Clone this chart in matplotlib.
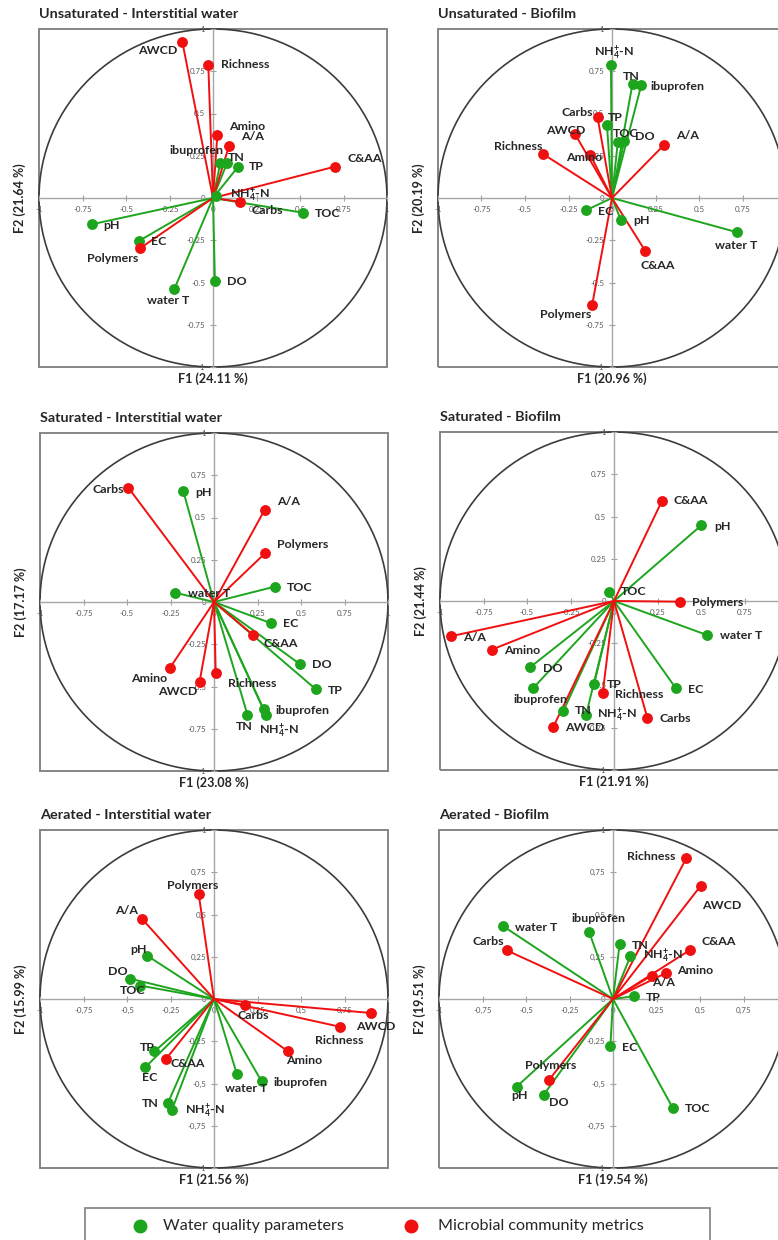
import matplotlib
matplotlib.use('Agg')
import matplotlib.pyplot as plt
from matplotlib.patches import Circle, Rectangle
from matplotlib.lines import Line2D

plt.rcParams['font.family'] = ['Lato', 'DejaVu Sans']
plt.rcParams['mathtext.fontset'] = 'custom'
plt.rcParams['mathtext.rm'] = 'Lato'
plt.rcParams['mathtext.bf'] = 'Lato:bold'
plt.rcParams['mathtext.it'] = 'Lato:italic'

# variable order shared by every panel
water_names = ['pH', 'EC', 'water T', 'DO', 'TOC', 'TN', 'NH4', 'TP', 'ibuprofen']
microbe_names = ['AWCD', 'Richness', 'Carbs', 'Polymers', 'C&AA', 'Amino', 'A/A']

# Unsaturated - Interstitial water
uns_iw_wq_f1 = [-0.698, -0.424, -0.222, 0.011, 0.516, 0.082, 0.02, 0.145, 0.042]
uns_iw_wq_f2 = [-0.156, -0.253, -0.538, -0.492, -0.087, 0.21, 0.01, 0.186, 0.206]
uns_iw_mc_f1 = [-0.176, -0.027, 0.153, -0.42, 0.702, 0.025, 0.092]
uns_iw_mc_f2 = [0.923, 0.787, -0.022, -0.298, 0.186, 0.373, 0.308]

# Unsaturated - Biofilm
uns_bf_wq_f1 = [0.052, -0.151, 0.72, 0.071, 0.033, 0.118, -0.006, -0.029, 0.168]
uns_bf_wq_f2 = [-0.132, -0.073, -0.203, 0.339, 0.329, 0.677, 0.785, 0.432, 0.667]
uns_bf_mc_f1 = [-0.214, -0.396, -0.083, -0.114, 0.191, -0.125, 0.299]
uns_bf_mc_f2 = [0.381, 0.26, 0.477, -0.632, -0.313, 0.256, 0.314]

# Saturated - Interstitial water
sat_iw_wq_f1 = [-0.177, 0.327, -0.223, 0.492, 0.35, 0.192, 0.298, 0.585, 0.285]
sat_iw_wq_f2 = [0.658, -0.125, 0.055, -0.366, 0.091, -0.666, -0.666, -0.516, -0.634]
sat_iw_mc_f1 = [-0.083, 0.01, -0.492, 0.292, 0.223, -0.254, 0.292]
sat_iw_mc_f2 = [-0.472, -0.423, 0.676, 0.287, -0.194, -0.391, 0.547]

# Saturated - Biofilm
sat_bf_wq_f1 = [0.502, 0.356, 0.536, -0.483, -0.027, -0.291, -0.161, -0.115, -0.464]
sat_bf_wq_f2 = [0.448, -0.517, -0.202, -0.393, 0.055, -0.65, -0.676, -0.493, -0.515]
sat_bf_mc_f1 = [-0.349, -0.065, 0.192, 0.379, 0.276, -0.701, -0.935]
sat_bf_mc_f2 = [-0.745, -0.546, -0.692, -0.004, 0.593, -0.287, -0.208]

# Aerated - Interstitial water
aer_iw_wq_f1 = [-0.385, -0.396, 0.131, -0.485, -0.423, -0.265, -0.242, -0.342, 0.273]
aer_iw_wq_f2 = [0.257, -0.405, -0.443, 0.121, 0.079, -0.615, -0.656, -0.31, -0.486]
aer_iw_mc_f1 = [0.904, 0.723, 0.177, -0.088, -0.277, 0.423, -0.415]
aer_iw_mc_f2 = [-0.083, -0.164, -0.036, 0.621, -0.356, -0.308, 0.476]

# Aerated - Biofilm
aer_bf_wq_f1 = [-0.554, -0.015, -0.63, -0.398, 0.343, 0.038, 0.1, 0.119, -0.138]
aer_bf_wq_f2 = [-0.519, -0.281, 0.43, -0.566, -0.644, 0.324, 0.253, 0.016, 0.399]
aer_bf_mc_f1 = [0.504, 0.421, -0.609, -0.368, 0.441, 0.303, 0.222]
aer_bf_mc_f2 = [0.67, 0.833, 0.287, -0.479, 0.289, 0.153, 0.138]

ticks = [-1, -0.75, -0.5, -0.25, 0, 0.25, 0.5, 0.75, 1]
tick_text = ['-1', '-0.75', '-0.5', '-0.25', '0', '0.25', '0.5', '0.75', '1']

GREEN = '#1ea51e'
RED = '#f01010'
TXT = '#262626'
W, H = 778, 1240

display = {n: n for n in water_names + microbe_names}
display['NH4'] = r'NH$_\mathbf{4}^\mathbf{+}$-N'

# label placement (dx, dy in pixels, alignment) per panel
lab_uns_iw = {'AWCD': (-5, -8, 'r'), 'Richness': (13, 0, 'l'), 'Amino': (12, 8, 'l'),
              'A/A': (12, 9, 'l'), 'ibuprofen': (3, 13, 'r'), 'TN': (1, 5, 'l'),
              'TP': (11, 0, 'l'), 'C&AA': (12, 8, 'l'), 'NH4': (14, 1, 'l'),
              'Carbs': (12, -9, 'l'), 'TOC': (12, -1, 'l'), 'pH': (12, -1, 'l'),
              'EC': (12, -1, 'l'), 'Polymers': (-2, -10, 'r'), 'water T': (-6, -12, 'c'),
              'DO': (12, 0, 'l')}
lab_uns_bf = {'NH4': (3, 12, 'c'), 'TN': (-1, 7, 'c'), 'ibuprofen': (9, -1, 'l'),
              'Carbs': (-4, 5, 'r'), 'TP': (1, 7, 'l'), 'AWCD': (-9, 3, 'c'),
              'TOC': (-5, 9, 'l'), 'DO': (11, 4, 'l'), 'A/A': (12, 9, 'l'),
              'Richness': (-1, 8, 'r'), 'Amino': (-6, -3, 'c'), 'EC': (12, -1, 'l'),
              'pH': (12, 0, 'l'), 'water T': (-1, -13, 'c'), 'C&AA': (13, -15, 'c'),
              'Polymers': (-1, -10, 'r')}
lab_sat_iw = {'Carbs': (-4, -2, 'r'), 'pH': (12, -2, 'l'), 'A/A': (12, 8, 'l'),
              'Polymers': (12, 9, 'l'), 'TOC': (12, -1, 'l'), 'water T': (13, -1, 'l'),
              'EC': (12, 0, 'l'), 'C&AA': (11, -9, 'l'), 'DO': (12, -1, 'l'),
              'TP': (12, -1, 'l'), 'Amino': (-3, -10, 'r'), 'AWCD': (-2, -10, 'r'),
              'Richness': (12, -10, 'l'), 'ibuprofen': (12, -1, 'l'), 'NH4': (-7, -16, 'l'),
              'TN': (-3, -12, 'c')}
lab_sat_bf = {'C&AA': (11, 0, 'l'), 'pH': (13, -1, 'l'), 'TOC': (12, 0, 'l'),
              'Polymers': (12, -1, 'l'), 'water T': (13, 0, 'l'), 'A/A': (12, -1, 'l'),
              'Amino': (12, -1, 'l'), 'DO': (13, -1, 'l'), 'ibuprofen': (7, -11, 'c'),
              'TP': (13, 0, 'l'), 'Richness': (12, -1, 'l'), 'EC': (12, -1, 'l'),
              'TN': (12, 0, 'l'), 'NH4': (11, 0, 'l'), 'Carbs': (12, -1, 'l'),
              'AWCD': (12, -1, 'l')}
lab_aer_iw = {'Polymers': (-6, 9, 'c'), 'A/A': (-4, 8, 'r'), 'pH': (0, 6, 'r'),
              'DO': (-2, 7, 'r'), 'TOC': (5, -5, 'r'), 'Carbs': (9, -10, 'c'),
              'AWCD': (4, -13, 'c'), 'Richness': (-1, -14, 'c'), 'Amino': (-2, -9, 'l'),
              'TP': (0, 4, 'r'), 'C&AA': (5, -4, 'l'), 'EC': (5, -10, 'c'),
              'water T': (9, -15, 'c'), 'ibuprofen': (12, -1, 'l'), 'TN': (-9, -1, 'r'),
              'NH4': (13, -1, 'l')}
lab_aer_bf = {'Richness': (-11, 2, 'r'), 'AWCD': (21, -20, 'c'), 'water T': (12, -1, 'l'),
              'ibuprofen': (9, 13, 'c'), 'TN': (12, -1, 'l'), 'Carbs': (-3, 9, 'r'),
              'C&AA': (12, 9, 'l'), 'NH4': (13, 0, 'l'), 'Amino': (11, 3, 'l'),
              'A/A': (0, -7, 'l'), 'TP': (12, -1, 'l'), 'EC': (12, -1, 'l'),
              'Polymers': (2, 14, 'c'), 'pH': (3, -9, 'c'), 'DO': (5, -8, 'l'),
              'TOC': (12, -1, 'l')}

HA = {'l': 'left', 'r': 'right', 'c': 'center'}

fig = plt.figure(figsize=(W / 100, H / 100), dpi=100)


def add_panel(left, top, title, xlab, ylab, wq_f1, wq_f2, mc_f1, mc_f2, labels, comma=False):
    ax = fig.add_axes([left / W, 1 - (top + 338) / H, 348 / W, 338 / H])
    ax.set_xlim(-1, 1)
    ax.set_ylim(-1, 1)
    ax.spines['left'].set_position('zero')
    ax.spines['bottom'].set_position('zero')
    for s in ('left', 'bottom'):
        ax.spines[s].set_color('#a6a6a6')
        ax.spines[s].set_linewidth(1.0)
    ax.spines['top'].set_visible(False)
    ax.spines['right'].set_visible(False)
    ax.add_patch(Rectangle((0, 0), 1, 1, transform=ax.transAxes, fill=False,
                           ec='#858585', lw=1.4, clip_on=False, zorder=1))
    ax.add_patch(Circle((0, 0), 1, fill=False, ec='#3c3c3c', lw=1.2, clip_on=False, zorder=1))

    lbls = [t.replace('.', ',') for t in tick_text] if comma else tick_text
    ax.set_xticks(ticks)
    ax.set_xticklabels(lbls)
    ax.set_yticks(ticks)
    ax.set_yticklabels(lbls)
    ax.tick_params(direction='inout', length=5, width=0.8, color='#a0a0a0',
                   labelsize=5.7, labelcolor='#595959', pad=3)

    groups = [(water_names, wq_f1, wq_f2, GREEN), (microbe_names, mc_f1, mc_f2, RED)]
    for names, f1, f2, col in groups:
        for name, x, y in zip(names, f1, f2):
            ax.plot([0, x], [0, y], color=col, lw=1.4, zorder=3, solid_capstyle='round')
            ax.plot(x, y, 'o', color=col, ms=6.8, mec=col, zorder=4)
            dx, dy, ha = labels[name]
            ax.annotate(display[name], (x, y), xytext=(dx, dy), textcoords='offset pixels',
                        ha=HA[ha], va='center', fontsize=8.9, fontweight='bold',
                        color=TXT, zorder=5)

    ax.annotate(title, (0, 1), xycoords='axes fraction', xytext=(0, 15),
                textcoords='offset pixels', ha='left', va='center',
                fontsize=10.4, fontweight='bold', color=TXT)
    ax.annotate(xlab, (0.5, 0), xycoords='axes fraction', xytext=(0, -12),
                textcoords='offset pixels', ha='center', va='center',
                fontsize=9, fontweight='bold', color=TXT)
    ax.annotate(ylab, (0, 0.5), xycoords='axes fraction', xytext=(-19, 0),
                textcoords='offset pixels', ha='center', va='center', rotation=90,
                fontsize=9, fontweight='bold', color=TXT)
    return ax


add_panel(39, 29, 'Unsaturated - Interstitial water', 'F1 (24.11 %)', 'F2 (21.64 %)',
          uns_iw_wq_f1, uns_iw_wq_f2, uns_iw_mc_f1, uns_iw_mc_f2, lab_uns_iw)
add_panel(438, 29, 'Unsaturated - Biofilm', 'F1 (20.96 %)', 'F2 (20.19 %)',
          uns_bf_wq_f1, uns_bf_wq_f2, uns_bf_mc_f1, uns_bf_mc_f2, lab_uns_bf)
add_panel(40, 433, 'Saturated - Interstitial water', 'F1 (23.08 %)', 'F2 (17.17 %)',
          sat_iw_wq_f1, sat_iw_wq_f2, sat_iw_mc_f1, sat_iw_mc_f2, lab_sat_iw)
add_panel(440, 432, 'Saturated - Biofilm', 'F1 (21.91 %)', 'F2 (21.44 %)',
          sat_bf_wq_f1, sat_bf_wq_f2, sat_bf_mc_f1, sat_bf_mc_f2, lab_sat_bf)
add_panel(40, 830, 'Aerated - Interstitial water', 'F1 (21.56 %)', 'F2 (15.99 %)',
          aer_iw_wq_f1, aer_iw_wq_f2, aer_iw_mc_f1, aer_iw_mc_f2, lab_aer_iw, comma=True)
add_panel(439, 830, 'Aerated - Biofilm', 'F1 (19.54 %)', 'F2 (19.51 %)',
          aer_bf_wq_f1, aer_bf_wq_f2, aer_bf_mc_f1, aer_bf_mc_f2, lab_aer_bf, comma=True)

# legend box along the bottom edge
fig.add_artist(Rectangle((85 / W, 1 - 1252 / H), 625 / W, 44 / H, transform=fig.transFigure,
                         fill=False, ec='#7f7f7f', lw=1.2))
ly = 1 - 1226 / H
fig.add_artist(Line2D([140 / W], [ly], marker='o', ms=9, color=GREEN, ls='',
                      transform=fig.transFigure))
fig.add_artist(Line2D([411 / W], [ly], marker='o', ms=9, color=RED, ls='',
                      transform=fig.transFigure))
fig.text(163 / W, ly, 'Water quality parameters', va='center', fontsize=11.6, color=TXT)
fig.text(438 / W, ly, 'Microbial community metrics', va='center', fontsize=11.6, color=TXT)

fig.savefig('out.png', dpi=100)
